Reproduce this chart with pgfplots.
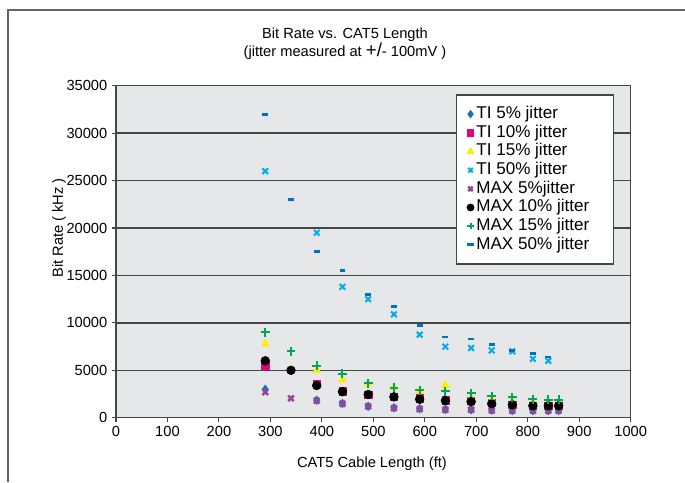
\documentclass[border=0pt]{standalone}
\usepackage{fontspec}
\setmainfont{Liberation Sans}
\usepackage{pgfplots}
\pgfplotsset{compat=1.18}

\definecolor{plotbg}{RGB}{230,231,232}
\definecolor{gridgray}{RGB}{70,70,70}
\definecolor{framegray}{RGB}{100,100,100}
\definecolor{tiblue}{RGB}{30,110,190}
\definecolor{timag}{RGB}{230,0,126}
\definecolor{tiyel}{RGB}{255,237,0}
\definecolor{ticyan}{RGB}{0,174,239}
\definecolor{maxpurple}{RGB}{146,72,152}
\definecolor{maxgreen}{RGB}{0,166,81}
\definecolor{maxblue}{RGB}{0,114,188}

\begin{document}
\begin{tikzpicture}
\begin{axis}[
    at={(87pt,48.2pt)}, anchor=south west,
    width=386pt, height=249pt, scale only axis,
    xmin=0, xmax=1000, ymin=0, ymax=35000,
    xtick={0,100,...,1000},
    ytick={0,5000,...,35000},
    scaled y ticks=false,
    /pgf/number format/1000 sep={},
    /pgf/number format/assume math mode=true,
    tick label style={font=\fontsize{11}{13}\selectfont},
    tick align=outside, xtick pos=bottom, ytick pos=left,
    major tick length=3pt,
    tick style={gridgray, line width=0.8pt},
    axis background/.style={fill=plotbg},
    ymajorgrids,
    grid style={draw=gridgray, line width=1pt},
    axis line style={gridgray, line width=1pt},
    legend style={at={(rel axis cs:0.6606,0.974)}, anchor=north west,
        draw=gridgray, line width=1pt, fill=white,
        font=\fontsize{12.8}{14}\selectfont,
        nodes={text height=9pt, text depth=2.5pt, inner ysep=1pt, inner xsep=2pt},
        inner xsep=8pt, inner ysep=7.6pt, row sep=0.5pt},
    legend cell align=left,
    legend image code/.code={\draw[mark repeat=2,mark phase=2,#1]
        plot coordinates {(0pt,0pt) (2.5pt,0pt) (5pt,0pt)};},
    legend image post style={mark size=2.4pt},
]

% TI 5% jitter
\addplot[only marks, mark=diamond*, mark size=3.2pt, color=tiblue] coordinates {
    (290,3000) (390,1850) (440,1500) (490,1200) (540,1050) (590,950) (640,870)
    (690,850) (730,800) (770,760) (810,750) (840,750) (860,750)
};
\addlegendentry{TI 5\% jitter}

% TI 10% jitter
\addplot[only marks, mark=square*, mark size=2.7pt, color=timag] coordinates {
    (290,5500) (390,3600) (440,2800) (490,2450) (540,2250) (590,2050) (640,1850)
    (690,1750) (730,1550) (770,1400) (810,1300) (840,1250) (860,1250)
};
\addlegendentry{TI 10\% jitter}

% TI 15% jitter
\addplot[only marks, mark=triangle*, mark size=3.4pt, color=tiyel] coordinates {
    (290,7800) (390,5000) (440,4000) (490,3600) (540,3200) (590,2800) (640,3450)
    (690,2100) (730,1900) (770,1750) (810,1600) (840,1550) (860,1500)
};
\addlegendentry{TI 15\% jitter}

% TI 50% jitter
\addplot[only marks, mark=x, mark size=3pt, line width=1.5pt, color=ticyan] coordinates {
    (290,26000) (390,19500) (440,13800) (490,12500) (540,10900) (590,8750)
    (640,7500) (690,7350) (730,7100) (770,7000) (810,6200) (840,6000)
};
\addlegendentry{TI 50\% jitter}

% MAX 5% jitter
\addplot[only marks, mark=x, mark size=3pt, line width=1.9pt, color=maxpurple] coordinates {
    (290,2700) (340,2050) (390,1800) (440,1480) (490,1200) (540,1020) (590,920)
    (640,840) (690,840) (730,770) (770,740) (810,740) (840,740) (860,740)
};
\addlegendentry{MAX 5\%jitter}

% MAX 10% jitter
\addplot[only marks, mark=*, mark size=3.3pt, color=black] coordinates {
    (290,6000) (340,5000) (390,3400) (440,2750) (490,2450) (540,2200) (590,1950)
    (640,1800) (690,1700) (730,1480) (770,1370) (810,1260) (840,1260) (860,1260)
};
\addlegendentry{MAX 10\% jitter}

% MAX 15% jitter
\addplot[only marks, mark=+, mark size=3.3pt, line width=1.5pt, color=maxgreen] coordinates {
    (290,9000) (340,7000) (390,5500) (440,4650) (490,3650) (540,3150) (590,2900)
    (640,2800) (690,2600) (730,2300) (770,2150) (810,1950) (840,1900) (860,1900)
};
\addlegendentry{MAX 15\% jitter}

% MAX 50% jitter
\addplot[only marks, mark=-, mark size=2.2pt, line width=2pt, color=maxblue] coordinates {
    (290,32000) (340,23000) (390,17500) (440,15500) (490,13000) (540,11700)
    (590,9700) (640,8500) (690,8300) (730,7750) (770,7100) (810,6800) (840,6400)
};
\addlegendentry{MAX 50\% jitter\hspace*{8pt}}

\end{axis}

% title and axis labels
\node[align=center, font=\fontsize{11}{10.5}\selectfont] at (258.75pt,329pt)
    {Bit Rate vs. CAT5 Length\\(jitter measured at {\fontsize{14}{10}\selectfont +/}- 100mV )};
\node[font=\fontsize{11}{13}\selectfont] at (279pt,14pt) {CAT5 Cable Length (ft)};
\node[font=\fontsize{11}{13}\selectfont, rotate=90] at (44.25pt,190.5pt) {Bit Rate ( kHz )};

% outer frame, only its left and top edges fall inside the picture
\draw[framegray, line width=1.1pt] (6pt,0pt) -- (6pt,354pt) -- (513.75pt,354pt);

\pgfresetboundingbox
\useasboundingbox (0pt,0pt) rectangle (513.75pt,361.5pt);
\end{tikzpicture}
\end{document}
